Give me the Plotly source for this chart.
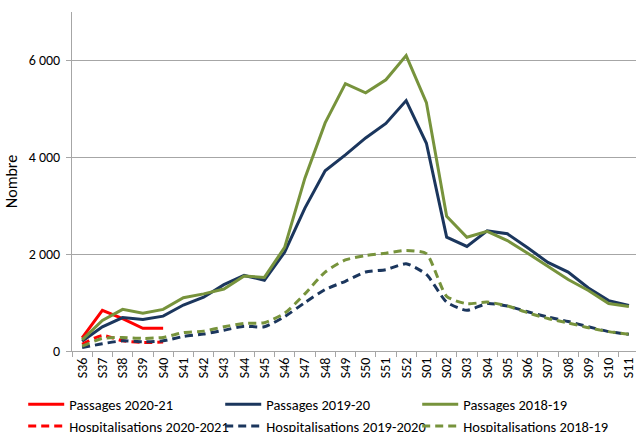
import plotly.graph_objects as go

weeks = ["S36", "S37", "S38", "S39", "S40", "S41", "S42", "S43", "S44", "S45", "S46", "S47",
         "S48", "S49", "S50", "S51", "S52", "S01", "S02", "S03", "S04", "S05", "S06", "S07",
         "S08", "S09", "S10", "S11"]

passages_2020_21 = [270, 840, 670, 470, 470]
passages_2019_20 = [200, 500, 690, 650, 720, 950, 1110, 1370, 1560, 1460, 2040, 2950, 3720, 4050,
                    4400, 4700, 5170, 4290, 2350, 2160, 2480, 2420, 2130, 1830, 1630, 1300, 1040, 940]
passages_2018_19 = [230, 630, 860, 780, 860, 1100, 1180, 1280, 1550, 1520, 2140, 3570, 4710, 5520,
                    5330, 5600, 6100, 5130, 2780, 2350, 2470, 2280, 2020, 1750, 1475, 1250, 980, 920]
hosp_2020_21 = [140, 320, 210, 175, 185]
hosp_2019_20 = [70, 150, 210, 190, 210, 300, 350, 430, 510, 500, 710, 1000, 1270, 1440, 1630, 1680,
                1800, 1580, 1010, 840, 980, 930, 810, 700, 610, 500, 400, 345]
hosp_2018_19 = [100, 260, 280, 260, 280, 380, 410, 500, 570, 585, 780, 1180, 1630, 1880, 1970, 2020,
                2075, 2010, 1130, 975, 1010, 930, 790, 670, 580, 480, 400, 345]

y_ticks = [0, 2000, 4000, 6000]
y_ticklabels = ["0", "2 000", "4 000", "6 000"]

RED = "#FF0000"
NAVY = "#1B365D"
GREEN = "#77933C"
FONT = "Liberation Sans Narrow, Carlito, Arial, sans-serif"

series = [
    ("Passages 2020-21", passages_2020_21, RED, "solid", "linear"),
    ("Passages 2019-20", passages_2019_20, NAVY, "solid", "linear"),
    ("Passages 2018-19", passages_2018_19, GREEN, "solid", "linear"),
    ("Hospitalisations 2020-2021", hosp_2020_21, RED, "8px,5px", "spline"),
    ("Hospitalisations 2019-2020", hosp_2019_20, NAVY, "8px,5px", "spline"),
    ("Hospitalisations 2018-19", hosp_2018_19, GREEN, "8px,5px", "spline"),
]

fig = go.Figure()
for name, vals, col, dash, shape in series:
    fig.add_trace(go.Scatter(
        x=weeks[:len(vals)], y=vals, name=name, mode="lines",
        line=dict(color=col, width=3, dash=dash, shape=shape, smoothing=0.6),
    ))

fig.update_layout(
    width=636, height=432,
    margin=dict(l=72, r=0, t=12, b=81, autoexpand=False),
    plot_bgcolor="white", paper_bgcolor="white",
    font=dict(family=FONT, size=14, color="#000000"),
    showlegend=True,
    legend=dict(orientation="h", x=-0.0865, xanchor="left", y=-0.11, yanchor="top",
                entrywidth=146, entrywidthmode="pixels", traceorder="normal",
                font=dict(size=14.5), itemwidth=36, bgcolor="rgba(0,0,0,0)"),
)
fig.update_xaxes(
    type="category", categoryorder="array", categoryarray=weeks,
    range=[-0.5, 27.35], tickangle=-90, ticks="outside", ticklen=5, tickcolor="#A6A6A6",
    tickson="boundaries", showline=True, linecolor="#A6A6A6", linewidth=1,
    showgrid=False, tickfont=dict(size=14),
)
fig.update_yaxes(
    range=[0, 7000], tickvals=y_ticks, ticktext=y_ticklabels,
    ticks="outside", ticklen=5, tickcolor="#A6A6A6", ticklabelstandoff=3,
    showline=True, linecolor="#A6A6A6", linewidth=1,
    showgrid=True, gridcolor="#A6A6A6", gridwidth=1, zeroline=False,
    title=dict(text="Nombre", standoff=7, font=dict(size=16)), tickfont=dict(size=14),
)

fig.write_html("out.html", config={"displayModeBar": False},
               post_script="document.body.style.margin='0';")
